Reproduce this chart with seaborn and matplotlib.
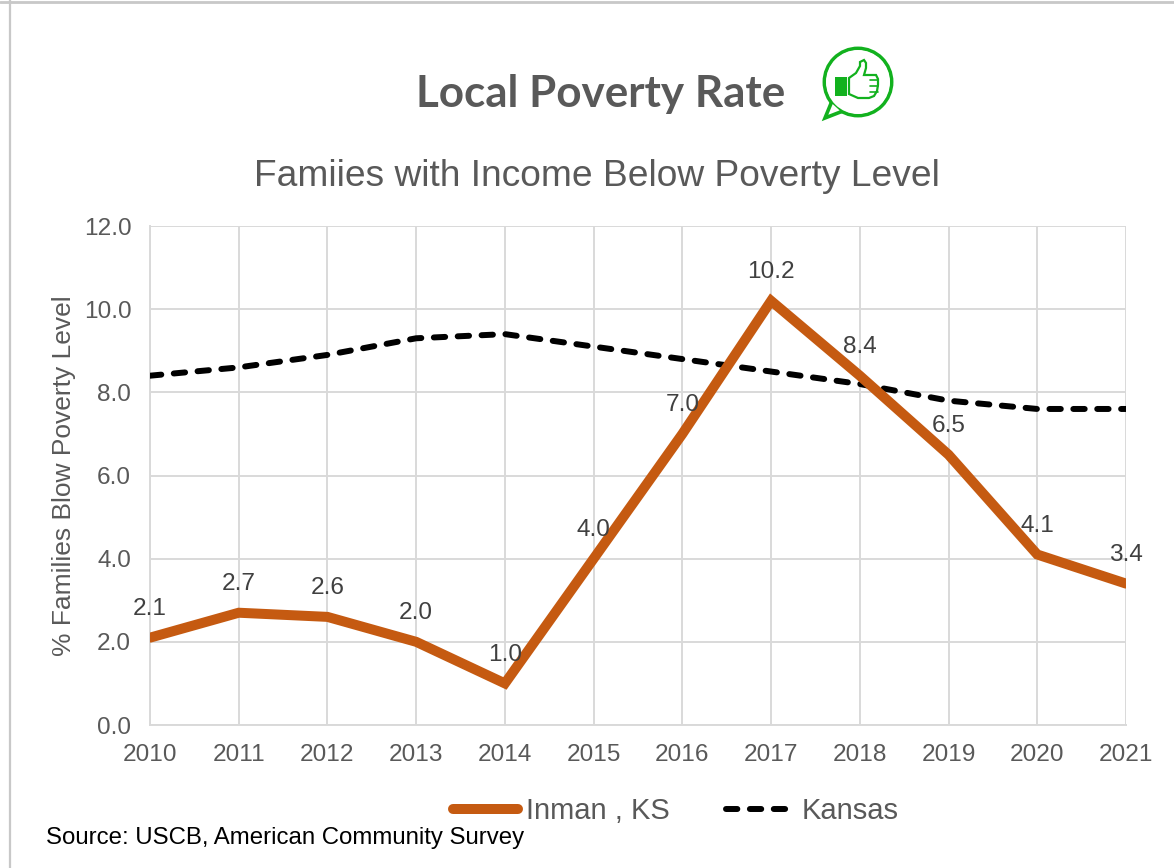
import matplotlib
matplotlib.use('Agg')
import matplotlib.pyplot as plt
from matplotlib.patches import Circle, Polygon, Rectangle
from matplotlib.lines import Line2D
import pandas as pd
import seaborn as sns

years = [2010, 2011, 2012, 2013, 2014, 2015, 2016, 2017, 2018, 2019, 2020, 2021]
inman = [2.1, 2.7, 2.6, 2.0, 1.0, 4.0, 7.0, 10.2, 8.4, 6.5, 4.1, 3.4]
kansas = [8.4, 8.6, 8.9, 9.3, 9.4, 9.1, 8.8, 8.5, 8.2, 7.8, 7.6, 7.6]
y_ticks = [0, 2, 4, 6, 8, 10, 12]

sns.set_style('white')
plt.rcParams['font.family'] = ['Liberation Sans', 'DejaVu Sans']

W, H = 1174, 868
ORANGE = '#C55A11'
GREY = '#595959'
DASH = (0, (1.9, 2.1))

fig = plt.figure(figsize=(W / 100, H / 100), dpi=100)
ax = fig.add_axes([150 / W, 1 - 725 / H, 976 / W, 499 / H])

df = pd.DataFrame({'year': years, 'Inman': inman, 'Kansas': kansas})
sns.lineplot(data=df, x='year', y='Kansas', ax=ax, color='black', lw=4.3,
             linestyle=DASH, dash_capstyle='round', zorder=3)
sns.lineplot(data=df, x='year', y='Inman', ax=ax, color=ORANGE, lw=7.2,
             zorder=4, solid_joinstyle='miter')

ax.set_xlim(2010, 2021)
ax.set_ylim(0, 12)
ax.set_xticks(years)
ax.set_yticks(y_ticks)
ax.set_yticklabels([f'{v:.1f}' for v in y_ticks])
ax.grid(True, color='#D9D9D9', lw=1.4)
ax.set_axisbelow(True)
for s in ['top', 'right']:
    ax.spines[s].set_visible(False)
for s in ['left', 'bottom']:
    ax.spines[s].set_color('#D9D9D9')
    ax.spines[s].set_linewidth(1.4)
ax.tick_params(axis='both', length=0, labelsize=17.6, labelcolor=GREY)
ax.tick_params(axis='x', pad=14)
ax.tick_params(axis='y', pad=13.5)
ax.set_xlabel('')
ax.set_ylabel('% Families Blow Poverty Level', fontsize=19, color=GREY, labelpad=5.5)

# data labels sit above each point
for x, v in zip(years, inman):
    ax.annotate(f'{v:.1f}', (x, v), xytext=(0, 12.7), textcoords='offset points',
                ha='center', va='bottom', fontsize=17.6, color='#404040', zorder=5,
                annotation_clip=False)

fig.text(601 / W, 1 - 94 / H, 'Local Poverty Rate', family='Lato', fontweight='bold',
         fontsize=31.7, color=GREY, ha='center', va='center')
fig.text(596.5 / W, 1 - 176 / H, 'Famiies with Income Below Poverty Level', fontsize=26.7,
         color=GREY, ha='center', va='center')

# two legends, the gap between key and text differs
fig.legend([Line2D([], [], color=ORANGE, lw=7.2, solid_capstyle='round')], ['Inman , KS'],
           loc='center left', bbox_to_anchor=(453 / W, 1 - 811 / H), frameon=False,
           fontsize=21, labelcolor=GREY, handlelength=2.23, handletextpad=0.27,
           borderpad=0, borderaxespad=0)
fig.legend([Line2D([], [], color='black', lw=4.3, linestyle=DASH, dash_capstyle='round')], ['Kansas'],
           loc='center left', bbox_to_anchor=(726 / W, 1 - 811 / H), frameon=False,
           fontsize=21, labelcolor=GREY, handlelength=2.2, handletextpad=0.38,
           borderpad=0, borderaxespad=0)

fig.text(46 / W, 1 - 838 / H, 'Source: USCB, American Community Survey', fontsize=17.3,
         color='black', ha='left', va='center')

# thin frame lines left by the screenshot
fig.add_artist(Line2D([0, 1], [1 - 2 / H] * 2, color='#C8C8C8', lw=2))
fig.add_artist(Line2D([10 / W] * 2, [0, 1], color='#C8C8C8', lw=1.6))

# thumbs up badge
icon = fig.add_axes([815 / W, 1 - 125 / H, 85 / W, 100 / H])
icon.set_xlim(815, 900)
icon.set_ylim(125, 25)
icon.axis('off')
green = '#12B11E'
icon.add_patch(Circle((858, 82), 33.5, fc='white', ec=green, lw=2.8))
icon.add_patch(Polygon([(832, 101), (825, 118), (843, 111)], closed=True, fc='white', ec=green,
                       lw=2.6, joinstyle='miter'))
icon.add_patch(Circle((858, 82), 32, fc='white', ec='none'))
icon.add_patch(Rectangle((835, 77), 12, 19, fc=green, ec='none'))
thumb = [(849, 78), (856, 73), (860, 66), (860, 62), (864, 60), (866, 63), (866, 68), (864, 75),
         (876, 75), (878, 79), (878, 85), (877, 91), (874, 96), (869, 98), (858, 98), (849, 94)]
icon.add_patch(Polygon(thumb, closed=True, fc='white', ec=green, lw=1.6))
for fy in [80, 86, 92]:
    icon.add_line(Line2D([870, 878], [fy, fy], color=green, lw=1.2))

fig.savefig('out.png', dpi=100)
